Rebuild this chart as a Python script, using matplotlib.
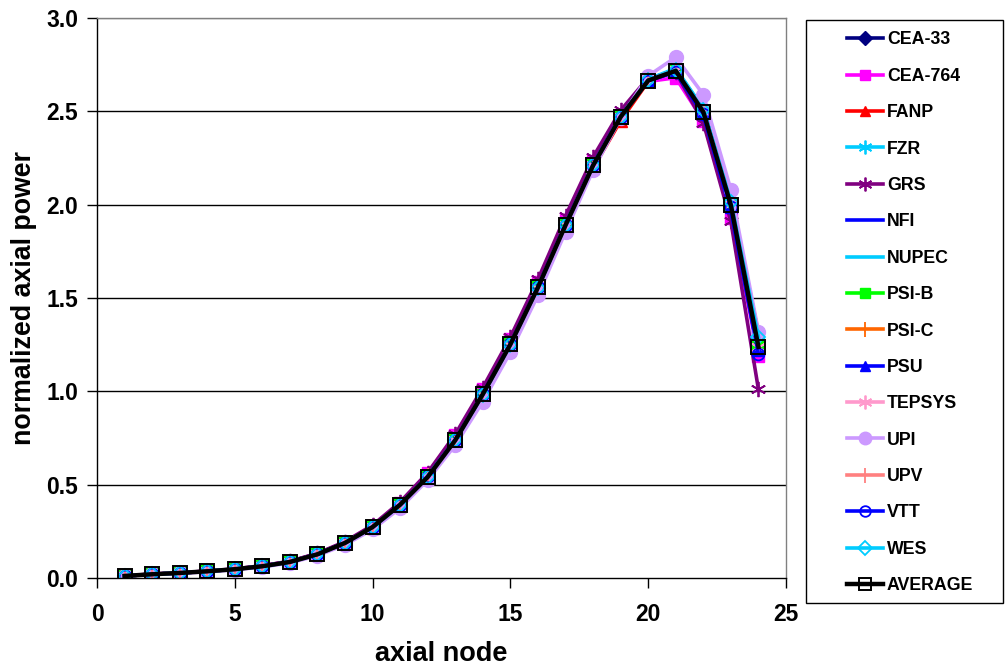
import matplotlib
matplotlib.use("Agg")
import matplotlib.pyplot as plt
from matplotlib.patches import Rectangle

plt.rcParams['font.family'] = ['Liberation Sans', 'DejaVu Sans']
plt.rcParams['font.weight'] = 'bold'

nodes = list(range(1, 25))

cea33 = [0.011,0.020,0.027,0.036,0.047,0.063,0.086,0.127,0.188,0.273,0.393,0.545,0.742,0.985,1.255,1.560,1.895,2.215,2.475,2.665,2.715,2.490,1.985,1.215]
cea764 = [0.011,0.021,0.028,0.037,0.048,0.065,0.089,0.131,0.193,0.280,0.402,0.560,0.765,1.010,1.280,1.585,1.920,2.235,2.480,2.660,2.680,2.450,1.930,1.190]
fanp = [0.011,0.020,0.027,0.036,0.047,0.063,0.086,0.126,0.186,0.270,0.388,0.540,0.735,0.975,1.245,1.550,1.880,2.195,2.450,2.660,2.725,2.510,2.030,1.310]
fzr = [0.011,0.020,0.027,0.036,0.047,0.063,0.086,0.127,0.188,0.272,0.391,0.543,0.738,0.985,1.250,1.555,1.890,2.210,2.470,2.670,2.725,2.510,2.020,1.265]
grs = [0.012,0.021,0.028,0.037,0.049,0.066,0.090,0.132,0.195,0.283,0.407,0.565,0.770,1.020,1.290,1.600,1.940,2.255,2.505,2.680,2.710,2.440,1.910,1.010]
nfi = [0.011,0.020,0.027,0.036,0.047,0.063,0.086,0.127,0.188,0.273,0.393,0.545,0.742,0.985,1.255,1.560,1.895,2.215,2.475,2.665,2.710,2.480,1.965,1.200]
nupec = [0.011,0.020,0.027,0.036,0.047,0.063,0.086,0.127,0.187,0.272,0.390,0.542,0.737,0.980,1.248,1.553,1.888,2.210,2.472,2.672,2.730,2.515,2.025,1.270]
psib = [0.011,0.020,0.027,0.036,0.047,0.063,0.086,0.127,0.188,0.273,0.392,0.544,0.740,0.983,1.252,1.557,1.891,2.212,2.470,2.665,2.715,2.495,2.000,1.240]
psic = [0.011,0.020,0.027,0.036,0.047,0.063,0.086,0.127,0.188,0.273,0.392,0.544,0.740,0.982,1.250,1.555,1.890,2.210,2.468,2.665,2.718,2.495,2.005,1.245]
psu = [0.011,0.020,0.027,0.036,0.047,0.063,0.086,0.127,0.188,0.273,0.392,0.545,0.741,0.984,1.253,1.558,1.892,2.213,2.472,2.666,2.716,2.490,1.990,1.220]
tepsys = [0.011,0.020,0.027,0.036,0.047,0.063,0.086,0.127,0.188,0.272,0.391,0.543,0.739,0.982,1.250,1.555,1.890,2.210,2.470,2.668,2.722,2.500,2.005,1.240]
upi = [0.010,0.019,0.025,0.033,0.044,0.059,0.081,0.120,0.178,0.260,0.375,0.525,0.712,0.945,1.210,1.515,1.855,2.185,2.465,2.690,2.790,2.590,2.080,1.320]
upv = [0.011,0.020,0.027,0.036,0.047,0.063,0.086,0.127,0.188,0.273,0.392,0.544,0.740,0.983,1.252,1.557,1.891,2.212,2.471,2.666,2.718,2.495,2.000,1.240]
vtt = [0.011,0.020,0.027,0.036,0.047,0.063,0.086,0.127,0.188,0.273,0.392,0.545,0.741,0.985,1.254,1.558,1.893,2.213,2.472,2.665,2.712,2.485,1.985,1.200]
wes = [0.011,0.020,0.027,0.036,0.047,0.063,0.086,0.127,0.188,0.272,0.391,0.543,0.738,0.982,1.250,1.555,1.890,2.210,2.470,2.668,2.722,2.505,2.015,1.290]
average = [0.011,0.020,0.027,0.036,0.047,0.063,0.086,0.127,0.188,0.273,0.393,0.541,0.738,0.985,1.252,1.557,1.890,2.210,2.470,2.665,2.717,2.497,1.997,1.238]

x_ticks = [0, 5, 10, 15, 20, 25]
y_ticks = [0.0, 0.5, 1.0, 1.5, 2.0, 2.5, 3.0]

ast = (6, 2, 0)
series = [
    ("CEA-33", cea33, dict(color="#000080", marker="D", ms=7.5, mfc="#000080", mec="#000080")),
    ("CEA-764", cea764, dict(color="#FF00FF", marker="s", ms=8.5, mfc="#FF00FF", mec="#FF00FF")),
    ("FANP", fanp, dict(color="#FF0000", marker="^", ms=8.5, mfc="#FF0000", mec="#FF0000")),
    ("FZR", fzr, dict(color="#00CCFF", marker=ast, ms=11, mec="#00CCFF", mew=1.3)),
    ("GRS", grs, dict(color="#800080", marker=ast, ms=11, mec="#800080", mew=1.3)),
    ("NFI", nfi, dict(color="#0000FF", marker=None)),
    ("NUPEC", nupec, dict(color="#00CCFF", marker=None)),
    ("PSI-B", psib, dict(color="#00FF00", marker="s", ms=8.5, mfc="#00FF00", mec="#00FF00")),
    ("PSI-C", psic, dict(color="#FF6600", marker="|", ms=12, mec="#FF6600", mew=1.3)),
    ("PSU", psu, dict(color="#0000FF", marker="^", ms=8.5, mfc="#0000FF", mec="#0000FF")),
    ("TEPSYS", tepsys, dict(color="#FF99CC", marker=ast, ms=11, mec="#FF99CC", mew=1.3)),
    ("UPI", upi, dict(color="#CC99FF", marker="o", ms=10, mfc="#CC99FF", mec="#CC99FF")),
    ("UPV", upv, dict(color="#FF8080", marker="|", ms=12, mec="#FF8080", mew=1.3)),
    ("VTT", vtt, dict(color="#0000FF", marker="o", ms=8.5, mfc="none", mec="#0000FF", mew=1.3)),
    ("WES", wes, dict(color="#00CCFF", marker="D", ms=7.5, mfc="none", mec="#00CCFF", mew=1.3)),
    ("AVERAGE", average, dict(color="#000000", marker="s", ms=10, mfc="none", mec="#000000", mew=1.4)),
]

fig = plt.figure(figsize=(10.05, 6.68), dpi=100)
ax = fig.add_axes([97/1005, 1-578/668, (786-97)/1005, (578-18)/668])

for yv in y_ticks[1:]:
    ax.axhline(yv, color="black" if yv < 3.0 else "#808080", lw=1.0, zorder=0)

handles = []
for name, vals, st in series:
    lw = 3.2 if name == "AVERAGE" else 2.6
    h, = ax.plot(nodes, vals, lw=lw, label=name, **st)
    handles.append(h)

ax.set_xlim(0, 25)
ax.set_ylim(0, 3.0)
ax.set_xticks(x_ticks)
ax.set_yticks(y_ticks)
ax.set_xticklabels([str(v) for v in x_ticks])
ax.set_yticklabels([f"{v:.1f}" for v in y_ticks])
ax.tick_params(axis="both", direction="out", length=7, width=1, labelsize=16.5)
ax.tick_params(axis="x", pad=11)
ax.tick_params(axis="y", pad=6.5)
for lab in ax.get_xticklabels() + ax.get_yticklabels():
    lab.set_fontweight("bold")
ax.spines["top"].set_color("#808080")
ax.spines["right"].set_color("#808080")
ax.spines["left"].set_color("black")
ax.spines["bottom"].set_color("black")
for s in ax.spines.values():
    s.set_linewidth(1.0)

ax.set_xlabel("axial node", fontsize=19.5, fontweight="bold", labelpad=11)
ax.set_ylabel("normalized axial power", fontsize=19.3, fontweight="bold", labelpad=7)

# legend frame
fig.patches.append(Rectangle((806/1005, 1-603/668), 197/1005, 583/668, fill=False,
                             ec="black", lw=1.0, transform=fig.transFigure, figure=fig))

leg = fig.legend(handles=handles, loc="upper left",
                 bbox_to_anchor=(847/1005, 1-31.5/668), bbox_transform=fig.transFigure,
                 prop=dict(size=12.8, weight="bold"), frameon=False,
                 labelspacing=1.09, handlelength=2.02,
                 handletextpad=0.22, borderpad=0, borderaxespad=0, markerscale=0.9)

fig.savefig("out.png", dpi=100)
